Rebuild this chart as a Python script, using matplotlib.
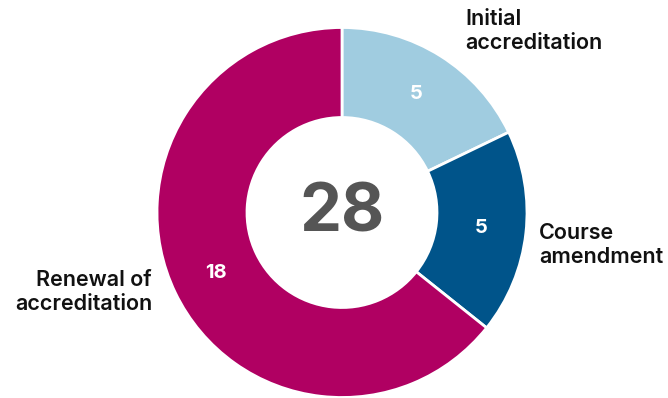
import matplotlib.pyplot as plt

plt.rcParams["font.family"] = ["Inter", "DejaVu Sans"]

# data
categories = ["Initial\naccreditation", "Course\namendment", "Renewal of\naccreditation"]
values = [5, 5, 18]
colors = ["#A0CCE0", "#00548A", "#B00062"]
total = sum(values)

fig = plt.figure(figsize=(6.68, 3.98), dpi=100)
ax = fig.add_axes([0, 0, 1, 1])

cx, cy, r = 342, 185.5, 185
wedges, texts, autotexts = ax.pie(
    values,
    colors=colors,
    startangle=90,
    counterclock=False,
    center=(cx, cy),
    radius=r,
    autopct=lambda p: f"{round(p * total / 100)}",
    pctdistance=0.757,
    wedgeprops=dict(width=90, edgecolor="white", linewidth=2),
    textprops=dict(color="white", fontsize=14.5, fontweight="bold"),
    frame=True,
)
ax.set_xlim(0, 668)
ax.set_ylim(0, 398)
ax.set_aspect("equal")
ax.axis("off")

ax.text(cx, cy - 2, str(total), ha="center", va="center", fontsize=48,
        fontweight="bold", color="#555555")

# outer labels
lab_kw = dict(fontsize=15.5, fontweight="semibold", color="#111111", linespacing=1.2)
ax.text(465, 398 - 31, categories[0], ha="left", va="center", **lab_kw)
ax.text(539, 398 - 245, categories[1], ha="left", va="center", **lab_kw)
ax.text(152, 398 - 292, categories[2], ha="right", va="center", **lab_kw)

fig.savefig("out.png", dpi=100)
